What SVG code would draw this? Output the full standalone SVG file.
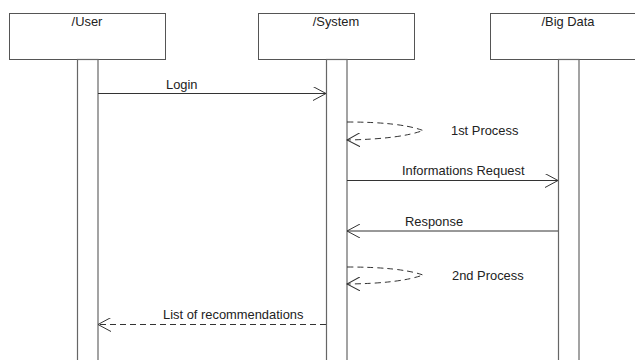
<svg xmlns="http://www.w3.org/2000/svg" width="635" height="360" viewBox="0 0 635 360">
<style>
.box{fill:#fff;stroke:#555;stroke-width:1}
.act{fill:#fff;stroke:#666;stroke-width:1.2}
.t{font-family:"Liberation Sans",Arial,sans-serif;font-size:12.9px;fill:#222}
.msg{fill:none;stroke:#333;stroke-width:1}
.dash{stroke-dasharray:6,4}
</style>
<defs>
<marker id="open" markerUnits="userSpaceOnUse" viewBox="0 0 14 14" refX="13" refY="7" markerWidth="14" markerHeight="14" orient="auto">
<path d="M0,0 L13,7 L0,14" fill="none" stroke="#333" stroke-width="1"/>
</marker>
</defs>
<rect width="635" height="360" fill="#fff"/>
<g id="user">
<rect class="box" x="9.5" y="13.5" width="156" height="46"/>
<text class="t" x="87" y="26" text-anchor="middle">/User</text>
<rect class="act" x="77.5" y="59.5" width="20.5" height="310"/>
</g>
<g id="system">
<rect class="box" x="258.5" y="13.5" width="156" height="46"/>
<text class="t" x="336" y="26" text-anchor="middle">/System</text>
<rect class="act" x="326.5" y="59.5" width="20.5" height="310"/>
</g>
<g id="bigdata">
<rect class="box" x="490.5" y="13.5" width="156" height="46"/>
<text class="t" x="568" y="26" text-anchor="middle">/Big Data</text>
<rect class="act" x="558.5" y="59.5" width="20.5" height="310"/>
</g>
<g id="connectors">
<line class="msg" x1="98" y1="93.5" x2="326" y2="93.5" marker-end="url(#open)"/>
<text class="t" x="166" y="89">Login</text>
<path class="msg dash" d="M347,122 Q400,122 423,130.5 Q400,139 347,140" marker-end="url(#open)"/>
<text class="t" x="451" y="135">1st Process</text>
<line class="msg" x1="347" y1="180.5" x2="558" y2="180.5" marker-end="url(#open)"/>
<text class="t" x="402" y="175">Informations Request</text>
<line class="msg" x1="558" y1="231" x2="347" y2="231" marker-end="url(#open)"/>
<text class="t" x="405" y="226">Response</text>
<path class="msg dash" d="M347,267 Q400,267 423,275 Q400,283.5 347,284" marker-end="url(#open)"/>
<text class="t" x="452" y="280">2nd Process</text>
<line class="msg dash" x1="326" y1="324.5" x2="98" y2="324.5" marker-end="url(#open)"/>
<text class="t" x="163" y="319">List of recommendations</text>
</g>
</svg>
